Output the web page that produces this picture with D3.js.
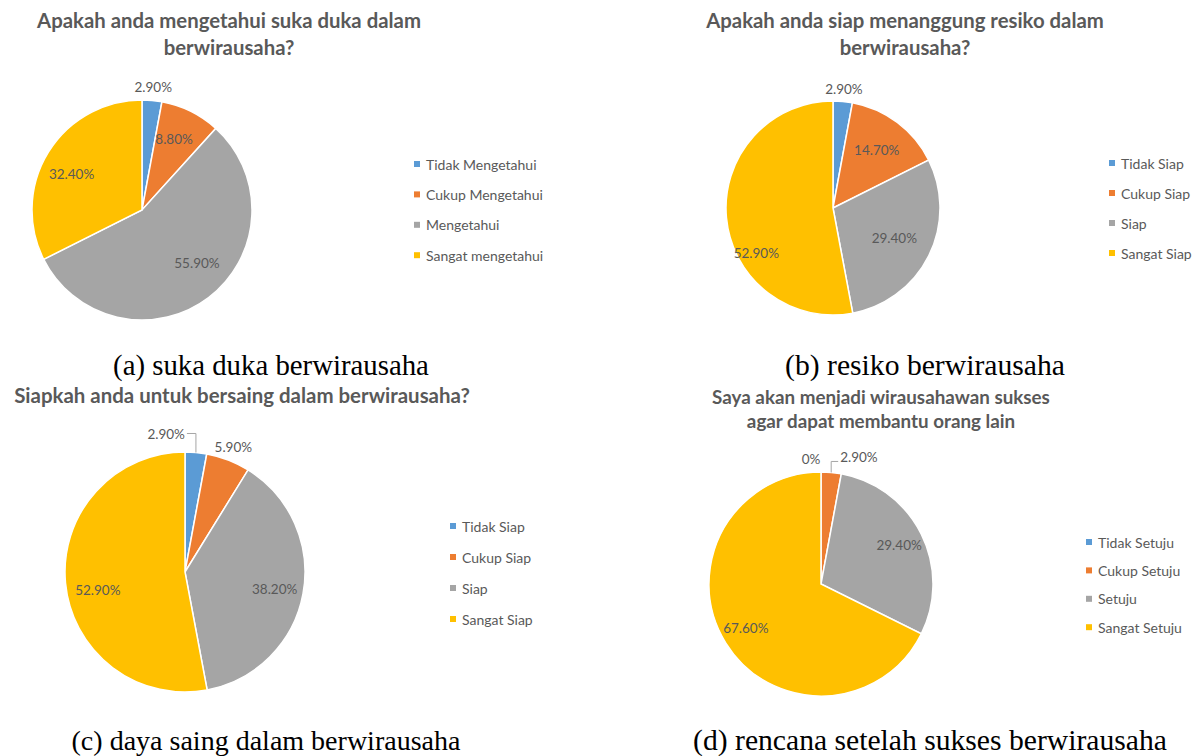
<!DOCTYPE html>
<html><head><meta charset="utf-8">
<script src="https://cdn.jsdelivr.net/npm/d3@7"></script>
<style>body{margin:0;background:#fff;}svg{display:block;}</style>
</head><body>
<svg id="c" width="1200" height="756"></svg>
<script>
// ---------- data ----------
const colors = ["#5B9BD5", "#ED7D31", "#A5A5A5", "#FFC000"];

const titleA = ["Apakah anda mengetahui suka duka dalam", "berwirausaha?"];
const catA = ["Tidak Mengetahui", "Cukup Mengetahui", "Mengetahui", "Sangat mengetahui"];
const valA = [2.9, 8.8, 55.9, 32.4];
const captionA = "(a) suka duka berwirausaha";

const titleB = ["Apakah anda siap menanggung resiko dalam", "berwirausaha?"];
const catB = ["Tidak Siap", "Cukup Siap", "Siap", "Sangat Siap"];
const valB = [2.9, 14.7, 29.4, 52.9];
const captionB = "(b) resiko berwirausaha";

const titleC = ["Siapkah anda untuk bersaing dalam berwirausaha?"];
const catC = ["Tidak Siap", "Cukup Siap", "Siap", "Sangat Siap"];
const valC = [2.9, 5.9, 38.2, 52.9];
const captionC = "(c) daya saing dalam berwirausaha";

const titleD = ["Saya akan menjadi wirausahawan sukses", "agar dapat membantu orang lain"];
const catD = ["Tidak Setuju", "Cukup Setuju", "Setuju", "Sangat Setuju"];
const valD = [0, 2.9, 29.4, 67.6];
const captionD = "(d) rencana setelah sukses berwirausaha";

// ---------- layout (positions / styles only) ----------
const layout = [
  {title: titleA, cats: catA, vals: valA, caption: captionA,
   cx: 142, cy: 210, r: 110, titleX: 229, titleY: [28, 55], titleW: 384,
   legX: 414, legY: 164, legStep: 30.4, capX: 271, capY: 375, capW: 316,
   labels: [{m: "out"}, {m: "in", dx: -3}, {m: "in", dx: 7, dy: -10}, {m: "in", dx: -3, dy: 6}]},
  {title: titleB, cats: catB, vals: valB, caption: captionB,
   cx: 833, cy: 208, r: 107, titleX: 905, titleY: [28, 55], titleW: 398,
   legX: 1109, legY: 163, legStep: 30, capX: 925, capY: 375, capW: 280,
   labels: [{m: "out"}, {m: "in", f: 0.68}, {m: "in", f: 0.64}, {m: "in", f: 0.72, dy: 38}]},
  {title: titleC, cats: catC, vals: valC, caption: captionC,
   cx: 185, cy: 572, r: 120, titleX: 242, titleY: [403], titleW: 456,
   legX: 450, legY: 526, legStep: 31, capX: 266, capY: 750, capW: 389,
   labels: [{m: "lead", dx: -11, dy: -19, anchor: "end", ldy: 0}, {m: "out"}, {m: "in", f: 0.76}, {m: "in", f: 0.73, dy: 10}]},
  {title: titleD, cats: catD, vals: valD, caption: captionD,
   cx: 821, cy: 584, r: 112, titleX: 881, titleY: [404, 428], titleW: 338,
   legX: 1086, legY: 542, legStep: 28.4, capX: 930, capY: 750, capW: 474,
   labels: [{m: "out", dx: -10}, {m: "lead", dx: 9, dy: -15, anchor: "start", ldy: 4}, {m: "in", f: 0.78}, {m: "in", f: 0.79, dy: -3}]}
];

const svg = d3.select("#c");
const fontSans = "Lato, 'Open Sans', sans-serif";
const txtColor = "#595959";
const fmt = v => v === 0 ? "0%" : d3.format(".2f")(v) + "%";

// helper: fit font size to target width
function fitText(sel, target, maxSize) {
  sel.style("font-size", "100px");
  const w = sel.node().getComputedTextLength();
  const s = Math.min(maxSize, 100 * target / w);
  sel.style("font-size", s + "px");
  return s;
}

layout.forEach(cfg => {
  const g = svg.append("g");

  // title
  let tsize = null;
  cfg.title.forEach((line, i) => {
    const t = g.append("text").attr("x", cfg.titleX).attr("y", cfg.titleY[i])
      .attr("text-anchor", "middle").attr("fill", txtColor)
      .style("font-family", fontSans).style("font-weight", "bold").text(line);
    if (i === 0) tsize = fitText(t, cfg.titleW, 24);
    else t.style("font-size", tsize + "px");
  });

  // pie
  const pie = d3.pie().sort(null).value(d => d)(cfg.vals);
  const arc = d3.arc().innerRadius(0).outerRadius(cfg.r);
  const pg = g.append("g").attr("transform", `translate(${cfg.cx},${cfg.cy})`);
  pg.selectAll("path").data(pie).join("path")
    .attr("d", arc).attr("fill", (d, i) => colors[i])
    .attr("stroke", "#fff").attr("stroke-width", 1.5);

  // labels
  pie.forEach((d, i) => {
    const L = cfg.labels[i];
    const a = (d.startAngle + d.endAngle) / 2;
    const ux = Math.sin(a), uy = -Math.cos(a);
    let x, y, anchor = "middle";
    if (L.m === "in") {
      const f = L.f || 0.72;
      x = ux * cfg.r * f + (L.dx || 0); y = uy * cfg.r * f + (L.dy || 0);
    } else if (L.m === "out") {
      x = ux * cfg.r * 1.12 + (L.dx || 0); y = uy * cfg.r * 1.12;
    } else {
      const ex = ux * cfg.r, ey = uy * cfg.r;
      x = ex + L.dx; y = ey + L.dy; anchor = L.anchor;
      const ly = y + L.ldy;
      const sgn = L.anchor === "end" ? 1 : -1;
      pg.append("polyline")
        .attr("points", [[ex, ey], [ex, ly], [x + sgn * 2, ly]].map(p => p.join(",")).join(" "))
        .attr("fill", "none").attr("stroke", "#A6A6A6").attr("stroke-width", 1);
    }
    pg.append("text").attr("x", x).attr("y", y)
      .attr("text-anchor", anchor).attr("dominant-baseline", "central")
      .attr("fill", txtColor).style("font-family", fontSans).style("font-size", "13.5px")
      .text(fmt(d.data));
  });

  // legend
  const lg = g.append("g");
  cfg.cats.forEach((c, i) => {
    const y = cfg.legY + i * cfg.legStep;
    lg.append("rect").attr("x", cfg.legX).attr("y", y - 3).attr("width", 6).attr("height", 6)
      .attr("fill", colors[i]);
    lg.append("text").attr("x", cfg.legX + 12).attr("y", y).attr("dominant-baseline", "central")
      .attr("fill", txtColor).style("font-family", fontSans).style("font-size", "14px").text(c);
  });

  // caption
  const cap = g.append("text").attr("x", cfg.capX).attr("y", cfg.capY).attr("text-anchor", "middle")
    .attr("fill", "#000").style("font-family", "'Liberation Serif', 'Times New Roman', serif").text(cfg.caption);
  fitText(cap, cfg.capW, 30);
});
</script>
</body></html>
